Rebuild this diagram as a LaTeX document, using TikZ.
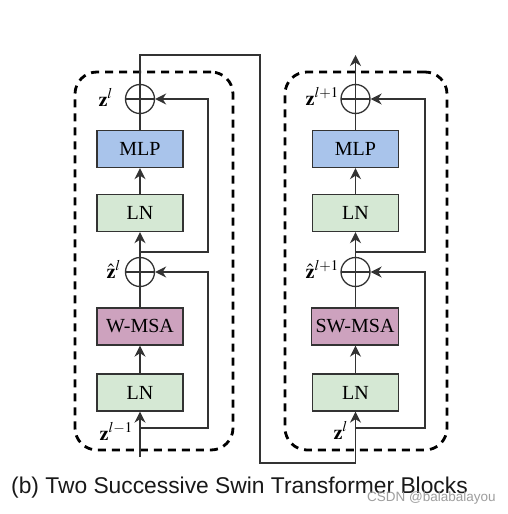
\documentclass[tikz,border=0pt]{standalone}
\usepackage{mathptmx}
\usepackage{fontspec}
\setmainfont{Liberation Serif}
\newfontfamily\capfont{Liberation Sans}
\usetikzlibrary{arrows.meta,calc}
\definecolor{mlpblue}{HTML}{A9C4EB}
\definecolor{lngreen}{HTML}{D5E8D4}
\definecolor{msapink}{HTML}{CDA2BE}
\definecolor{edgegray}{HTML}{333333}
\begin{document}
\begin{tikzpicture}[x=1pt,y=-1pt,
 blk/.style={draw=edgegray,line width=1.3pt,minimum width=86pt,minimum height=37pt,inner sep=0pt,font=\fontsize{20}{24}\selectfont},
 addop/.style={circle,draw=edgegray,line width=1.3pt,minimum size=29pt,inner sep=0pt,
   path picture={\draw[edgegray,line width=1.3pt] (path picture bounding box.north)--(path picture bounding box.south) (path picture bounding box.west)--(path picture bounding box.east);}},
 conn/.style={draw=edgegray,line width=1.4pt},
 arr/.style={conn,-{Stealth[length=11pt,width=11pt,inset=3.5pt]}},
 dashbox/.style={draw=black,line width=2.8pt,dash pattern=on 8pt off 6pt,rounded corners=22pt,inner sep=0pt},
 lbl/.style={anchor=base east,inner sep=0pt,font=\fontsize{20}{24}\selectfont},
]
\useasboundingbox (0,0) rectangle (507,514);
\fill[white] (0,0) rectangle (507,514);

% dashed frames
\node[dashbox,minimum width=158pt,minimum height=378pt] (frameL) at (154,261) {};
\node[dashbox,minimum width=162pt,minimum height=378pt] (frameR) at (366,261) {};

% left block
\node[addop] (aL1) at (140,99) {};
\node[blk,fill=mlpblue] (mL) at (140,149) {MLP};
\node[blk,fill=lngreen] (nL1) at (140,213) {LN};
\node[addop] (aL0) at (140,272) {};
\node[blk,fill=msapink] (wL) at (140,326.5) {W-MSA};
\node[blk,fill=lngreen] (nL0) at (140,392.5) {LN};

% right block
\node[addop] (aR1) at (355.5,99) {};
\node[blk,fill=mlpblue] (mR) at (355.5,149) {MLP};
\node[blk,fill=lngreen] (nR1) at (355.5,213) {LN};
\node[addop] (aR0) at (355.5,272) {};
\node[blk,fill=msapink,minimum width=87pt] (wR) at (355,326.5) {SW-MSA};
\node[blk,fill=lngreen] (nR0) at (355.5,392.5) {LN};

% coordinates
\coordinate (inL) at (140,457);
\coordinate (sL0) at (140,428);
\coordinate (kL0) at (208,272);
\coordinate (sL1) at (140,252);
\coordinate (kL1) at (208,99);
\coordinate (c1) at (140,55);
\coordinate (c2) at (260,55);
\coordinate (c3) at (260,463);
\coordinate (c4) at (355.5,463);
\coordinate (sR0) at (355.5,428);
\coordinate (kR0) at (425,272);
\coordinate (sR1) at (355.5,252);
\coordinate (kR1) at (425,99);
\coordinate (outR) at (355.5,55);

% left connectors
\draw[arr] (inL) -- (nL0.south);
\draw[arr] (nL0) -- (wL);
\draw[conn] (wL) -- (aL0);
\draw[arr] (aL0) -- (nL1);
\draw[arr] (nL1) -- (mL);
\draw[conn] (mL) -- (aL1);
\draw[arr] (sL0) -| (kL0) -- (aL0.east);
\draw[arr] (sL1) -| (kL1) -- (aL1.east);

% bridge
\draw[arr] (aL1.north) -- (c1) -- (c2) -- (c3) -- (c4) -- (nR0.south);

% right connectors
\draw[arr] (nR0) -- (wR.south -| nR0.north);
\draw[conn] (wR.north -| aR0.south) -- (aR0);
\draw[arr] (aR0) -- (nR1);
\draw[arr] (nR1) -- (mR);
\draw[conn] (mR) -- (aR1);
\draw[arr] (sR0) -| (kR0) -- (aR0.east);
\draw[arr] (sR1) -| (kR1) -- (aR1.east);
\draw[arr] (aR1.north) -- (outR);

% labels
\node[lbl] (lzL1) at (113,106) {$\mathbf{z}^{l}$};
\node[lbl] (lzL0) at (121,278) {$\hat{\mathbf{z}}^{l}$};
\node[lbl] (lzLin) at (133,440) {$\mathbf{z}^{l-1}$};
\node[lbl] (lzR1) at (339,105) {$\mathbf{z}^{l+1}$};
\node[lbl] (lzR0) at (339,278) {$\hat{\mathbf{z}}^{l+1}$};
\node[lbl] (lzRin) at (348,439) {$\mathbf{z}^{l}$};

% caption
\node[anchor=base west,inner sep=0pt,font=\capfont\fontsize{22.8}{26}\selectfont,text=black!90] (cap) at (11,493) {(b) Two Successive Swin Transformer Blocks};
\node[anchor=base west,inner sep=0pt,font=\capfont\fontsize{13.5}{15}\selectfont,text=black!38] (wm) at (367,501) {CSDN @balabalayou};
\end{tikzpicture}
\end{document}
